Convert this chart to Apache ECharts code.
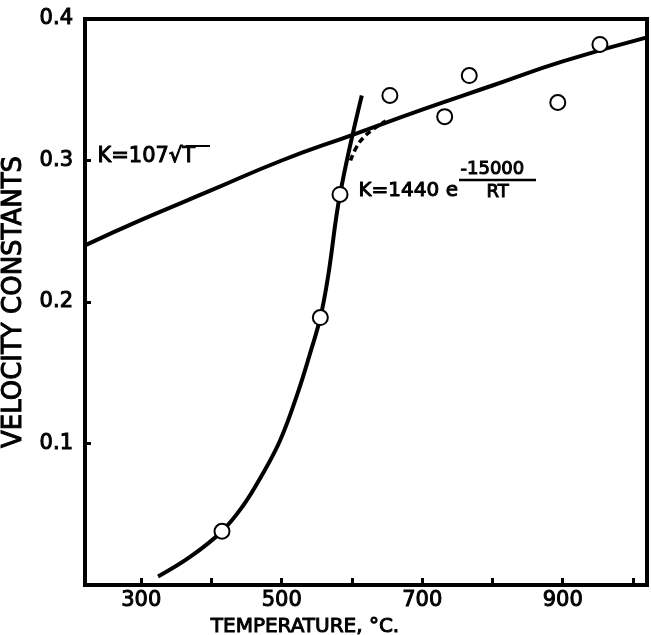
<!DOCTYPE html>
<html>
<head>
<meta charset="utf-8">
<script src="https://cdn.jsdelivr.net/npm/echarts@6/dist/echarts.min.js"></script>
<style>
  html, body { margin: 0; padding: 0; background: #fff; }
  #main { width: 651px; height: 635px; }
</style>
</head>
<body>
<div id="main"></div>
<script>
// VELOCITY CONSTANTS vs TEMPERATURE

// measured points (open circles)
var measuredT = [415, 555, 583, 654, 732, 767, 893, 953];
var measuredK = [0.038, 0.189, 0.276, 0.346, 0.331, 0.360, 0.341, 0.382];

// K = 107 sqrt(T) line
var sqrtT = [220, 300, 400, 500, 600, 700, 800, 900, 1020];
var sqrtK = [0.240, 0.258, 0.279, 0.300, 0.318, 0.336, 0.353, 0.370, 0.387];

// K = 1440 e^(-15000/RT) curve
var arrT = [324, 370, 415, 445, 470, 498, 523, 540, 555, 566, 583, 614];
var arrK = [0.006, 0.020, 0.038, 0.056, 0.076, 0.1025, 0.136, 0.163, 0.189, 0.218, 0.276, 0.346];

// dashed joining piece
var joinT = [598, 606, 616, 630, 648];
var joinK = [0.300, 0.309, 0.316, 0.322, 0.328];

var xTicks = [300, 400, 500, 600, 700, 800, 900, 1000];
var xLabels = [300, 500, 700, 900];
var yTicks = [0.1, 0.2, 0.3];
var yLabels = [0.1, 0.2, 0.3, 0.4];

function pairs(xs, ys) {
    return xs.map(function (x, i) { return [x, ys[i]]; });
}

var FONT = 'DejaVu Sans';
// a thin outline makes the plain face look like the heavy lettering
var heavy = { textBorderColor: '#000', textBorderWidth: 1 };
var heavyG = { stroke: '#000', lineWidth: 1 };

var myChart = echarts.init(document.getElementById('main'));

myChart.setOption({
    animation: false,
    grid: {
        left: 85, right: 4, top: 19, bottom: 50,
        outerBoundsMode: 'none',
        containLabel: false,
        show: true,
        borderColor: '#000',
        borderWidth: 4
    },
    xAxis: {
        type: 'value',
        min: 220,
        max: 1020,
        name: 'TEMPERATURE, °C.',
        nameLocation: 'middle',
        nameGap: 27,
        nameTextStyle: Object.assign({ color: '#000', fontFamily: FONT, fontSize: 20, padding: [0, 122, 0, 0] }, heavy),
        splitLine: { show: false },
        axisLine: { lineStyle: { color: '#000', width: 4 } },
        axisTick: {
            inside: true, length: 7,
            customValues: xTicks,
            lineStyle: { color: '#000', width: 3 }
        },
        axisLabel: Object.assign({
            customValues: xLabels,
            color: '#000', fontFamily: FONT, fontSize: 21, margin: 5
        }, heavy)
    },
    yAxis: {
        type: 'value',
        min: 0,
        max: 0.4,
        name: 'VELOCITY CONSTANTS',
        nameLocation: 'middle',
        nameGap: 51,
        nameTextStyle: Object.assign({ color: '#000', fontFamily: FONT, fontSize: 26 }, heavy),
        splitLine: { show: false },
        axisLine: { lineStyle: { color: '#000', width: 4 } },
        axisTick: {
            inside: true, length: 6,
            customValues: yTicks,
            lineStyle: { color: '#000', width: 3 }
        },
        axisLabel: Object.assign({
            customValues: yLabels,
            color: '#000', fontFamily: FONT, fontSize: 21, margin: 12,
            formatter: function (v) { return v.toFixed(1); }
        }, heavy)
    },
    series: [
        {
            type: 'line',
            data: pairs(sqrtT, sqrtK),
            smooth: true,
            symbol: 'none',
            lineStyle: { color: '#000', width: 4 },
            z: 2
        },
        {
            type: 'line',
            data: pairs(arrT, arrK),
            smooth: 0.4,
            symbol: 'none',
            lineStyle: { color: '#000', width: 4 },
            z: 2
        },
        {
            type: 'line',
            data: pairs(joinT, joinK),
            smooth: true,
            symbol: 'none',
            lineStyle: { color: '#000', width: 3.5, type: [6, 4] },
            z: 2
        },
        {
            type: 'scatter',
            data: pairs(measuredT, measuredK),
            symbol: 'circle',
            symbolSize: 15,
            itemStyle: { color: '#fff', borderColor: '#000', borderWidth: 2, opacity: 1 },
            z: 5
        }
    ],
    graphic: [
        {
            type: 'text', left: 97, top: 146,
            style: Object.assign({ text: 'K=107√T', fill: '#000', font: '21px "DejaVu Sans"' }, heavyG)
        },
        {
            // bar over the T of the root sign
            type: 'line',
            shape: { x1: 186, y1: 146, x2: 210, y2: 146 },
            style: { stroke: '#000', lineWidth: 2 }
        },
        {
            type: 'text', left: 358, top: 180,
            style: Object.assign({ text: 'K=1440 e', fill: '#000', font: '20px "DejaVu Sans"' }, heavyG)
        },
        {
            type: 'text', left: 460, top: 160,
            style: Object.assign({ text: '-15000', fill: '#000', font: '18px "DejaVu Sans"' }, heavyG)
        },
        {
            type: 'line',
            shape: { x1: 459, y1: 180, x2: 536, y2: 180 },
            style: { stroke: '#000', lineWidth: 2.5 }
        },
        {
            type: 'text', left: 486, top: 183,
            style: Object.assign({ text: 'RT', fill: '#000', font: '18px "DejaVu Sans"' }, heavyG)
        }
    ]
});
</script>
</body>
</html>
